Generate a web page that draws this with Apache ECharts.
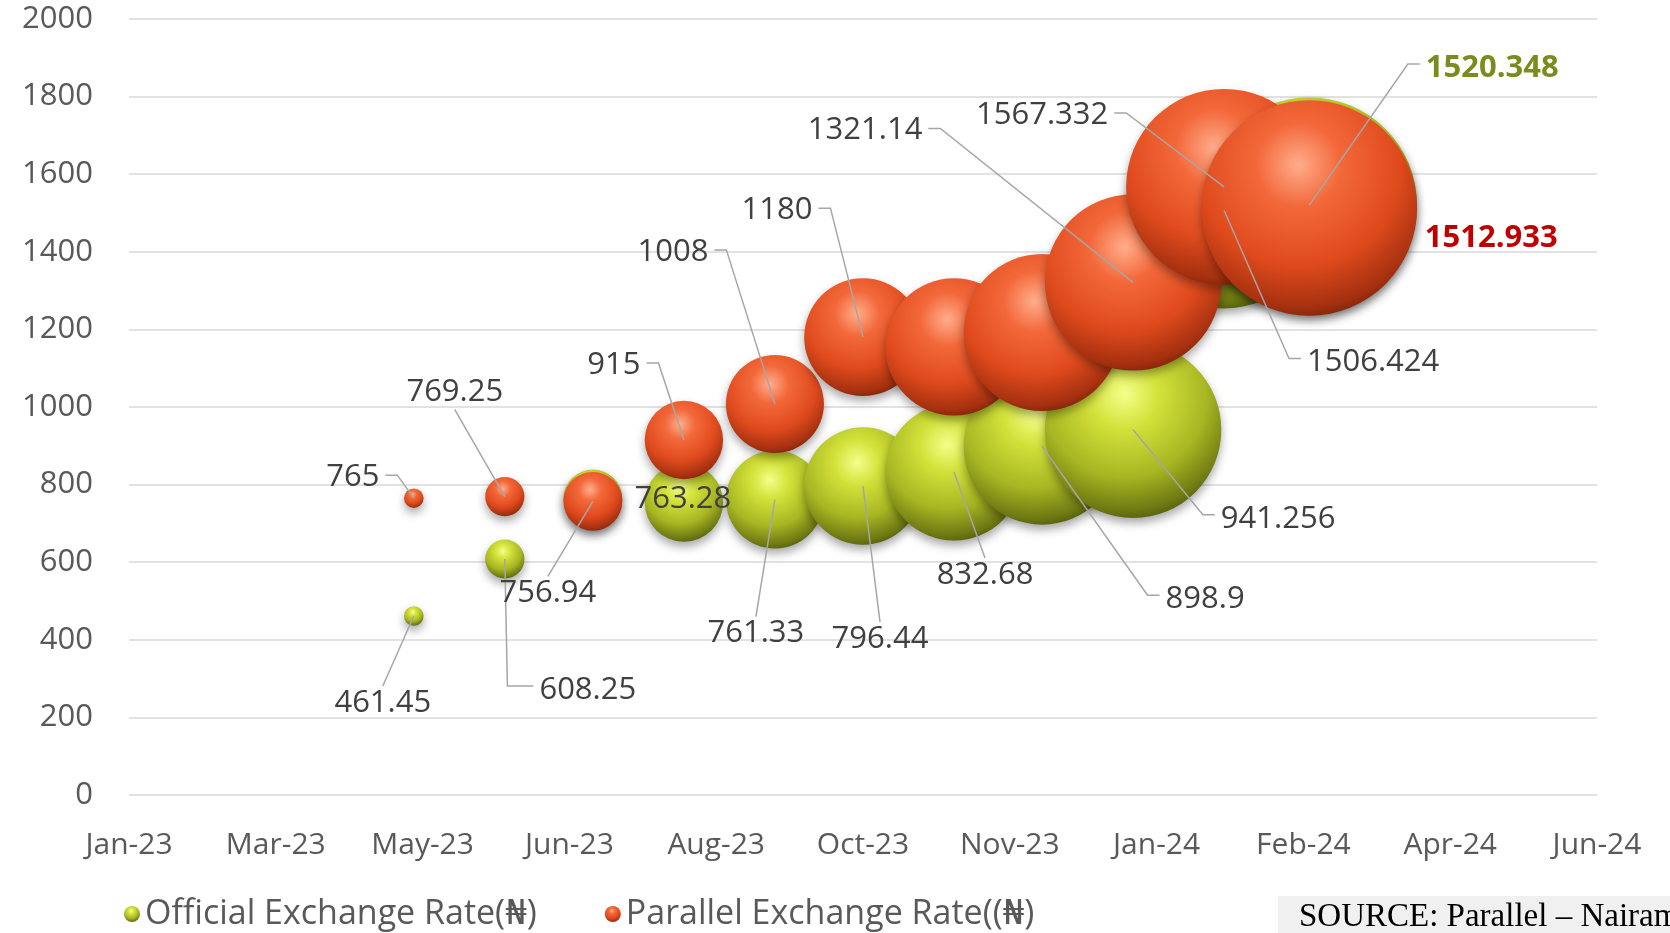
<!DOCTYPE html>
<html>
<head>
<meta charset="utf-8">
<title>Official vs Parallel Exchange Rate</title>
<script src="https://cdn.jsdelivr.net/npm/echarts@6/dist/echarts.min.js"></script>
<style>
  html, body { margin: 0; padding: 0; background: #fff; }
  #chart { width: 1670px; height: 933px; }
</style>
</head>
<body>
<div id="chart"></div>
<script>
// months (first of month), bubble sizes and the two rate series
var months = ['2023-05-01', '2023-06-01', '2023-07-01', '2023-08-01', '2023-09-01', '2023-10-01',
  '2023-11-01', '2023-12-01', '2024-01-01', '2024-02-01', '2024-03-01'];
var bubbleSize = [1, 2, 3, 4, 5, 6, 7, 8, 9, 10, 11];
var official = [461.45, 608.25, 763.28, 754, 761.33, 796.44, 832.68, 898.9, 941.256, 1506.424, 1520.348];
var parallel = [765, 769.25, 756.94, 915, 1008, 1180, 1155, 1192, 1321.14, 1567.332, 1512.933];
var officialHidden = [3];
var parallelHidden = [6, 7];
var seriesNames = ['Official Exchange Rate(\u20a6)', 'Parallel Exchange Rate((\u20a6)'];
var monthNames = ['Jan', 'Feb', 'Mar', 'Apr', 'May', 'Jun', 'Jul', 'Aug', 'Sep', 'Oct', 'Nov', 'Dec'];

// label placement: [dx, dy of label centre, leader anchor, elbow length]
var officialLabelPos = [
  [-31, 87, 't'], [83, 131, 'l', 26], [90, 0, ''], null, [-19, 134, 't'], [17, 153, 't'],
  [31, 103, 't'], [163, 153, 'l'], [145, 89, 'l'], [149, 152, 'l'], [183, -137, 'l']
];
var parallelLabelPos = [
  [-61, -21, 'r'], [-50, -104, 'b'], [-45, 92, 't'], [-70, -75, 'r'], [-102, -152, 'r'],
  [-86, -127, 'r'], null, null, [-268, -152, 'r'], [-182, -72, 'r'], [182, 30, '']
];

var FONT = '"Open Sans", "DejaVu Sans", sans-serif';
var EXCEL_BASE = Date.UTC(1899, 11, 30);
var measureCtx = document.createElement('canvas').getContext('2d');

function toSerial(s) {
  var p = s.split('-');
  return Math.round((Date.UTC(+p[0], +p[1] - 1, +p[2]) - EXCEL_BASE) / 86400000);
}
function serialLabel(v) {
  var d = new Date(EXCEL_BASE + v * 86400000);
  return monthNames[d.getUTCMonth()] + '-' + String(d.getUTCFullYear() % 100);
}

var greenBall = {
  type: 'radial', x: 0.45, y: 0.3, r: 0.78,
  colorStops: [
    { offset: 0, color: '#f4ff8a' },
    { offset: 0.25, color: '#d3e23a' },
    { offset: 0.6, color: '#a7b622' },
    { offset: 0.85, color: '#6d7812' },
    { offset: 1, color: '#384006' }
  ]
};
var redBall = {
  type: 'radial', x: 0.45, y: 0.3, r: 0.78,
  colorStops: [
    { offset: 0, color: '#ffad8c' },
    { offset: 0.25, color: '#f3683a' },
    { offset: 0.6, color: '#df4a1d' },
    { offset: 0.85, color: '#a5300f' },
    { offset: 1, color: '#561704' }
  ]
};

function bubbleSeries(name, values, color) {
  return {
    name: name,
    type: 'scatter',
    data: values.map(function (v, i) { return [toSerial(months[i]), v, bubbleSize[i]]; }),
    symbolSize: function (val) { return val[2] * 19.6; },
    clip: false,
    itemStyle: {
      color: color,
      opacity: 1,
      shadowBlur: 10,
      shadowOffsetY: 5,
      shadowColor: 'rgba(0,0,0,0.35)'
    },
    label: { show: false },
    emphasis: { disabled: true }
  };
}

// data labels with Excel-like leader lines, drawn above all bubbles
function labelSeries(values, hidden, spec, lastStyle) {
  return {
    type: 'custom',
    z: 10,
    silent: true,
    clip: false,
    data: values.map(function (v, i) { return [toSerial(months[i]), v, i]; }),
    renderItem: function (params, api) {
      var i = api.value(2);
      var s = spec[i];
      if (!s || hidden.indexOf(i) >= 0) return null;
      var c = api.coord([api.value(0), api.value(1)]);
      var txt = String(values[i]);
      var isLast = i === values.length - 1;
      var font = (isLast ? 'bold ' : '') + '31px ' + FONT;
      measureCtx.font = font;
      var w = measureCtx.measureText(txt).width;
      var h = 30;
      var lx = c[0] + s[0], ly = c[1] + s[1];
      var seg = s[3] || 12;
      var pts = null;
      if (s[2] === 'r') pts = [c, [lx + w / 2 + 6 + seg, ly - 2], [lx + w / 2 + 6, ly - 2]];
      else if (s[2] === 'l') pts = [c, [lx - w / 2 - 6 - seg, ly - 4], [lx - w / 2 - 6, ly - 4]];
      else if (s[2] === 't') pts = [c, [lx, ly - h / 2 - 2]];
      else if (s[2] === 'b') pts = [c, [lx, ly + h / 2 + 2]];
      var children = [];
      if (pts) {
        children.push({
          type: 'polyline',
          shape: { points: pts },
          style: { stroke: '#a6a6a6', lineWidth: 1.5, fill: null }
        });
      }
      children.push({
        type: 'text',
        style: {
          text: txt,
          x: lx,
          y: ly,
          align: 'center',
          verticalAlign: 'middle',
          font: font,
          fill: isLast ? lastStyle : '#404040'
        }
      });
      return { type: 'group', children: children };
    }
  };
}

var chart = echarts.init(document.getElementById('chart'));

var options = {
  animation: false,
  grid: { left: 129, right: 73, top: 19, bottom: 138 },
  xAxis: {
    type: 'value',
    min: 44950,
    max: 45450,
    interval: 50,
    axisLine: { show: false },
    axisTick: { show: false },
    splitLine: { show: false },
    axisLabel: {
      formatter: serialLabel,
      fontFamily: FONT,
      fontSize: 30,
      color: '#595959',
      margin: 35,
      showMaxLabel: true,
      showMinLabel: true
    }
  },
  yAxis: {
    type: 'value',
    min: 0,
    max: 2000,
    interval: 200,
    axisLine: { show: false },
    axisTick: { show: false },
    splitLine: { lineStyle: { color: '#d9d9d9', width: 1.5 } },
    axisLabel: {
      formatter: function (v) { return String(v); },
      fontFamily: FONT,
      fontSize: 31,
      color: '#595959',
      margin: 36
    }
  },
  legend: {
    left: 119,
    top: 892,
    itemGap: 68,
    itemWidth: 16,
    itemHeight: 22,
    icon: 'circle',
    textStyle: { fontFamily: FONT, fontSize: 34, color: '#595959' },
    data: seriesNames
  },
  graphic: [
    {
      type: 'rect',
      left: 1278,
      top: 896,
      shape: { width: 400, height: 40 },
      style: { fill: '#f0f0f0' }
    },
    {
      type: 'text',
      left: 1299,
      top: 901,
      style: {
        text: 'SOURCE: Parallel \u2013 Nairametrics',
        font: '33px "Liberation Serif", "Times New Roman", serif',
        fill: '#000'
      }
    }
  ],
  series: [
    bubbleSeries(seriesNames[0], official, greenBall),
    bubbleSeries(seriesNames[1], parallel, redBall),
    labelSeries(official, officialHidden, officialLabelPos, '#7a8c1c'),
    labelSeries(parallel, parallelHidden, parallelLabelPos, '#c00000')
  ]
};

chart.setOption(options);
</script>
</body>
</html>
